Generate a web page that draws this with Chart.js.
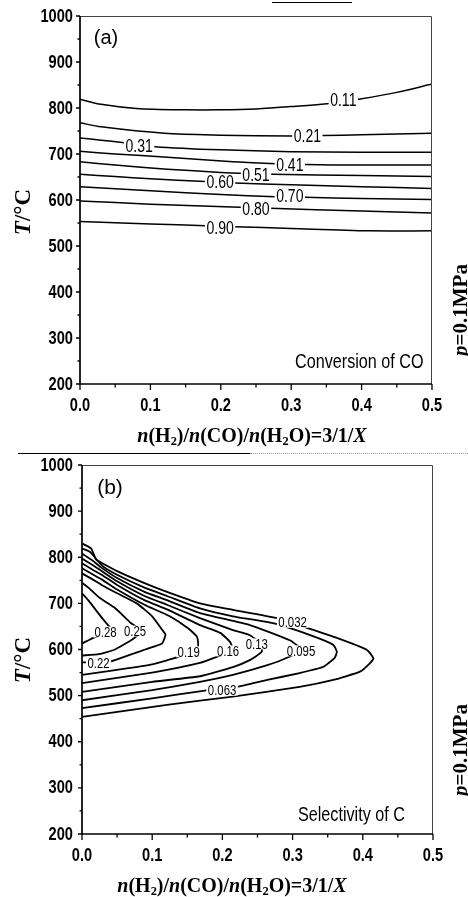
<!DOCTYPE html>
<html><head><meta charset="utf-8">
<script src="https://cdn.jsdelivr.net/npm/chart.js@4.4.1/dist/chart.umd.min.js"></script>
<style>
html,body{margin:0;padding:0;background:#fff;}
body{width:468px;height:897px;position:relative;overflow:hidden;}
.cw{position:absolute;left:0;width:468px;}
.t{position:absolute;white-space:nowrap;color:#000;line-height:1;}
.serif{font-family:'Liberation Serif','Times New Roman',serif;font-weight:bold;}
.sans{font-family:'Liberation Sans',Arial,sans-serif;}
.c{transform:translate(-50%,-50%);}
.n{transform-origin:0 50%;transform:translateY(-50%) scaleX(0.77);}
.r{transform:translate(-50%,-50%) rotate(-90deg);}
sub{font-size:0.62em;vertical-align:-0.28em;line-height:0;}
</style></head><body>
<div class="cw" style="top:0;height:453px"><canvas id="ca" width="468" height="453"></canvas></div>
<div class="cw" style="top:453px;height:444px"><canvas id="cb" width="468" height="444"></canvas></div>

<div style="position:absolute;left:272px;top:2px;width:80px;height:1px;background:#000"></div>
<div style="position:absolute;left:18px;top:453px;width:232px;height:1px;background:#000"></div>
<div style="position:absolute;left:250px;top:453px;width:218px;height:0;border-top:1px dotted #999"></div>

<div class="t sans c" style="left:106px;top:37px;font-size:20px">(a)</div>
<div class="t sans c" style="left:110px;top:486px;font-size:21px">(b)</div>
<div class="t sans n" style="left:295px;top:360px;font-size:21px">Conversion of CO</div>
<div class="t sans n" style="left:298px;top:813px;font-size:21px">Selectivity of C</div>

<div class="t serif r" style="left:22px;top:212px;font-size:23px"><i>T</i>/°C</div>
<div class="t serif r" style="left:22px;top:660px;font-size:23px"><i>T</i>/°C</div>
<div class="t serif r" style="left:460px;top:310px;font-size:21px"><i>p</i>=0.1MPa</div>
<div class="t serif r" style="left:460px;top:750px;font-size:21px"><i>p</i>=0.1MPa</div>
<div class="t serif c" style="left:252px;top:435px;font-size:20px"><i>n</i>(H<sub>2</sub>)/<i>n</i>(CO)/<i>n</i>(H<sub>2</sub>O)=3/1/<i>X</i></div>
<div class="t serif c" style="left:232px;top:885px;font-size:20px"><i>n</i>(H<sub>2</sub>)/<i>n</i>(CO)/<i>n</i>(H<sub>2</sub>O)=3/1/<i>X</i></div>

<script>
// ---- axis ticks ----
const xTickValues = [0, 0.1, 0.2, 0.3, 0.4, 0.5];
const xTickLabels = ['0.0', '0.1', '0.2', '0.3', '0.4', '0.5'];
const xMinorValues = [0.05, 0.15, 0.25, 0.35, 0.45];
const yTickValues = [200, 300, 400, 500, 600, 700, 800, 900, 1000];
const yTickLabels = ['200', '300', '400', '500', '600', '700', '800', '900', '1000'];
const yMinorValues = [250, 350, 450, 550, 650, 750, 850, 950];

// ---- panel (a): conversion of CO, contour lines as [x, T] ----
const a_011 = [[0,819],[0.03,808],[0.08,799],[0.15,796],[0.2,796],[0.25,798],[0.3,803],[0.355,810],[0.4,820],[0.45,834],[0.5,852]];
const a_021 = [[0,768],[0.03,759],[0.12,745],[0.2,741],[0.3,739],[0.345,740],[0.4,742],[0.5,745]];
const a_031 = [[0,735],[0.03,730],[0.06,725],[0.107,716],[0.2,709],[0.3,705],[0.4,704],[0.5,704]];
const a_041 = [[0,706],[0.05,700],[0.124,693],[0.217,683],[0.277,679],[0.32,677],[0.4,676],[0.5,676]];
const a_051 = [[0,683],[0.05,676],[0.124,667],[0.2,660],[0.227,658],[0.273,656],[0.4,653],[0.5,651]];
const a_060 = [[0,656],[0.05,651],[0.1,646],[0.178,640],[0.22,637],[0.3,633],[0.4,629],[0.5,625]];
const a_070 = [[0,629],[0.1,620],[0.2,612],[0.277,607],[0.32,606],[0.4,603],[0.5,601]];
const a_080 = [[0,598],[0.1,591],[0.227,584],[0.27,582],[0.4,576],[0.5,572]];
const a_090 = [[0,553],[0.1,548],[0.178,544],[0.22,542],[0.3,538],[0.41,533],[0.5,533]];
const aLabelText = ['0.11','0.21','0.31','0.41','0.51','0.60','0.70','0.80','0.90'];
const aLabelX = [0.374, 0.323, 0.084, 0.298, 0.25, 0.199, 0.298, 0.25, 0.199];
const aLabelT = [817, 739, 718, 676, 655, 640, 608, 581, 538];

// ---- panel (b): selectivity of C, contour lines as [x, T] ----
const b_0032 = [[0,830],[0.013,819],[0.02,795],[0.028,788],[0.05,770],[0.089,744],[0.121,725],[0.168,700],[0.215,686],[0.278,668],[0.32,647],[0.363,625],[0.406,599],[0.415,581],[0.41,570],[0.396,552],[0.358,534],[0.31,519],[0.215,498],[0.121,480],[0,454]];
const b_0063 = [[0,819],[0.012,811],[0.022,793],[0.03,780],[0.05,762],[0.089,734],[0.121,716],[0.168,689],[0.215,672],[0.272,657],[0.325,631],[0.358,610],[0.363,595],[0.36,582],[0.343,562],[0.31,549],[0.264,534],[0.221,519],[0.18,512],[0.1,494],[0,473]];
const b_0095 = [[0,808],[0.015,793],[0.028,777],[0.05,755],[0.089,725],[0.121,707],[0.168,679],[0.239,653],[0.296,620],[0.312,600],[0.292,582],[0.264,566],[0.215,545],[0.168,530],[0.1,512],[0,490]];
const b_013 = [[0,797],[0.015,783],[0.028,770],[0.05,748],[0.089,716],[0.121,697],[0.168,668],[0.215,642],[0.239,631],[0.255,612],[0.256,595],[0.239,577],[0.215,562],[0.168,542],[0.1,530],[0,508]];
const b_016 = [[0,787],[0.015,773],[0.028,762],[0.05,740],[0.089,707],[0.121,687],[0.168,653],[0.197,636],[0.211,616],[0.215,598],[0.192,584],[0.168,571],[0.1,550],[0,527]];
const b_019 = [[0,776],[0.015,763],[0.028,752],[0.05,730],[0.089,697],[0.125,672],[0.152,645],[0.164,627],[0.165,605],[0.137,584],[0.1,568],[0.05,556],[0,545]];
const b_022 = [[0,765],[0.015,752],[0.028,740],[0.05,722],[0.078,700],[0.1,672],[0.116,639],[0.119,632],[0.114,613],[0.09,600],[0.071,590],[0.04,574],[0,572]];
const b_025 = [[0,745],[0.01,733],[0.025,712],[0.047,690],[0.07,657],[0.085,640],[0.071,621],[0.047,600],[0.024,590],[0,587]];
const b_028 = [[0,722],[0.01,705],[0.025,675],[0.037,653],[0.045,640],[0.0185,627],[0,613]];
const bLabelText = ['0.28','0.25','0.22','0.19','0.16','0.13','0.095','0.063','0.032'];
const bLabelX = [0.0335, 0.0755, 0.0235, 0.152, 0.208, 0.249, 0.312, 0.1995, 0.30];
const bLabelT = [638, 640, 571, 595, 597, 612, 597, 512, 659];

const FONT = "'Liberation Sans',Arial,sans-serif";

function makeDatasets(lines, tension, width) {
  return lines.map(pts => ({
    data: pts.map(p => ({x: p[0], y: p[1]})),
    showLine: true, pointRadius: 0, borderColor: '#000', borderWidth: width,
    tension: tension, fill: false
  }));
}

function narrowText(ctx, text, x, y, align, sx) {
  ctx.save();
  ctx.translate(x, y);
  ctx.scale(sx, 1);
  ctx.textAlign = align;
  ctx.fillText(text, 0, 0);
  ctx.restore();
}

function labelPlugin(text, xs, ts, fontSize, squeeze, boxH) {
  return {
    id: 'contourLabels',
    afterDatasetsDraw(chart) {
      const ctx = chart.ctx, sx = chart.scales.x, sy = chart.scales.y;
      ctx.save();
      ctx.font = fontSize + 'px ' + FONT;
      ctx.textBaseline = 'middle';
      for (let i = 0; i < text.length; i++) {
        const px = sx.getPixelForValue(xs[i]), py = sy.getPixelForValue(ts[i]);
        const w = ctx.measureText(text[i]).width * squeeze;
        ctx.fillStyle = '#fff';
        ctx.fillRect(px - w / 2 - 1.5, py - boxH / 2, w + 3, boxH);
        ctx.fillStyle = '#000';
        narrowText(ctx, text[i], px, py + 1, 'center', squeeze);
      }
      ctx.restore();
    }
  };
}

function axisPlugin(g) {
  return {
    id: 'axisDecor',
    afterDraw(chart) {
      const ctx = chart.ctx, a = chart.chartArea, sx = chart.scales.x, sy = chart.scales.y;
      ctx.save();
      ctx.strokeStyle = '#000';
      ctx.lineWidth = 1.3;
      ctx.beginPath();
      yTickValues.forEach(v => { const p = sy.getPixelForValue(v); ctx.moveTo(a.left - 4, p); ctx.lineTo(a.left, p); });
      yMinorValues.forEach(v => { const p = sy.getPixelForValue(v); ctx.moveTo(a.left - 2.5, p); ctx.lineTo(a.left, p); });
      xTickValues.forEach(v => { const p = sx.getPixelForValue(v); ctx.moveTo(p, a.bottom); ctx.lineTo(p, a.bottom + 6); });
      xMinorValues.forEach(v => { const p = sx.getPixelForValue(v); ctx.moveTo(p, a.bottom); ctx.lineTo(p, a.bottom + 3.5); });
      ctx.stroke();
      ctx.lineWidth = 1;
      ctx.strokeStyle = '#444';
      ctx.beginPath();
      ctx.moveTo(a.left, a.top + 0.5); ctx.lineTo(a.right - 0.5, a.top + 0.5); ctx.lineTo(a.right - 0.5, a.bottom);
      ctx.stroke();
      ctx.lineWidth = 1.7;
      ctx.strokeStyle = '#000';
      ctx.beginPath();
      ctx.moveTo(a.left, a.top); ctx.lineTo(a.left, a.bottom); ctx.lineTo(a.right, a.bottom);
      ctx.stroke();
      // tick labels, placed through the chart's scales
      ctx.fillStyle = '#000';
      ctx.font = 'bold 18.5px ' + FONT;
      ctx.textBaseline = 'middle';
      yTickValues.forEach((v, i) => narrowText(ctx, yTickLabels[i], a.left - g.yPad, sy.getPixelForValue(v) + 0.5, 'right', 0.79));
      xTickValues.forEach((v, i) => narrowText(ctx, xTickLabels[i], sx.getPixelForValue(v), a.bottom + g.xOff, 'center', 0.79));
      ctx.restore();
    }
  };
}

function build(id, lines, tension, width, labels, g) {
  return new Chart(document.getElementById(id), {
    type: 'scatter',
    data: {datasets: makeDatasets(lines, tension, width)},
    plugins: [labels, axisPlugin(g)],
    options: {
      responsive: false, animation: false, devicePixelRatio: 1,
      layout: {padding: {top: g.padTop, right: g.padRight, left: 0, bottom: 0}},
      plugins: {legend: {display: false}, tooltip: {enabled: false}},
      scales: {
        x: {
          type: 'linear', min: 0, max: 0.5,
          border: {display: false}, grid: {display: false, drawTicks: false},
          ticks: {display: false},
          afterFit: s => { s.height = g.xHeight; }
        },
        y: {
          type: 'linear', min: 200, max: 1000,
          border: {display: false}, grid: {display: false, drawTicks: false},
          ticks: {display: false},
          afterFit: s => { s.width = g.yWidth; }
        }
      }
    }
  });
}

build('ca', [a_011, a_021, a_031, a_041, a_051, a_060, a_070, a_080, a_090], 0.3, 1.5,
      labelPlugin(aLabelText, aLabelX, aLabelT, 18, 0.78, 14),
      {padTop: 16, padRight: 36, yWidth: 80, xHeight: 69, xOff: 22, yPad: 7});
build('cb', [b_0032, b_0063, b_0095, b_013, b_016, b_019, b_022, b_025, b_028], 0.15, 1.8,
      labelPlugin(bLabelText, bLabelX, bLabelT, 15, 0.76, 11),
      {padTop: 12, padRight: 35, yWidth: 82, xHeight: 63, xOff: 22, yPad: 9});
</script>
</body></html>
